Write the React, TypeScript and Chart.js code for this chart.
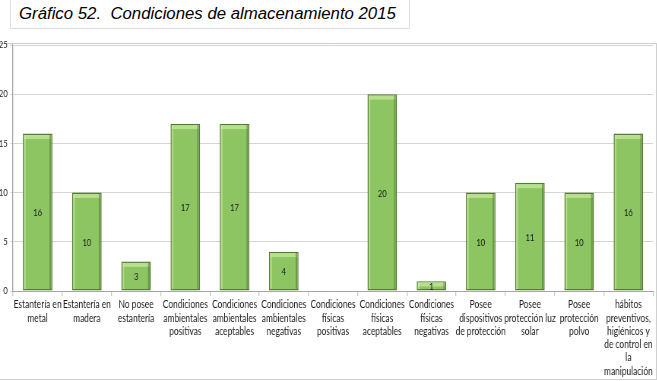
import React, { useEffect, useRef } from "react";
import { Chart, registerables } from "chart.js";

Chart.register(...registerables);

const titleText = "Gráfico 52.  Condiciones de almacenamiento 2015";

const categories: string[][] = [
  ["Estantería en", "metal"],
  ["Estantería en", "madera"],
  ["No posee", "estantería"],
  ["Condiciones", "ambientales", "positivas"],
  ["Condiciones", "ambientales", "aceptables"],
  ["Condiciones", "ambientales", "negativas"],
  ["Condiciones", "físicas", "positivas"],
  ["Condiciones", "físicas", "aceptables"],
  ["Condiciones", "físicas", "negativas"],
  ["Posee", "dispositivos", "de protección"],
  ["Posee", "protección luz", "solar"],
  ["Posee", "protección", "polvo"],
  ["hábitos", "preventivos,", "higiénicos y", "de control en", "la", "manipulación"],
];

const values: number[] = [16, 10, 3, 17, 17, 4, 0, 20, 1, 10, 11, 10, 16];

const yMin = 0;
const yMax = 25;
const yStep = 5;

// horizontal squeeze of the whole chart canvas (the reference text is condensed)
const SX = 0.76;
const CW = 865;
const CH = 381;

const LABEL_FONT = "Lato, 'Open Sans', sans-serif";

const barDecor = {
  id: "barDecor",
  afterDatasetsDraw(chart: any) {
    const ctx = chart.ctx;
    const meta = chart.getDatasetMeta(0);
    meta.data.forEach((el: any, i: number) => {
      const v = values[i];
      if (!v) return;
      const { x, y, base, width } = el.getProps(["x", "y", "base", "width"], true);
      const l = x - width / 2;
      const h = base - y;
      ctx.save();
      const th = Math.min(4, h - 2.5);
      if (th > 0) {
        ctx.fillStyle = "#b7df8c";
        ctx.fillRect(l + 1.7, y + 1.4, width - 3.4, th);
      }
      ctx.fillStyle = "rgba(205,238,168,0.55)";
      ctx.fillRect(l + 1.7, y + 1.4, 2, h - 2.8);
      ctx.fillStyle = "rgba(70,110,40,0.5)";
      ctx.fillRect(l + width - 3.7, y + 1.4, 2, h - 2.8);
      ctx.fillStyle = "#1a1a1a";
      ctx.font = "10px " + LABEL_FONT;
      ctx.textAlign = "center";
      ctx.textBaseline = "middle";
      ctx.fillText(String(v), x, (y + base) / 2 + 1);
      ctx.restore();
    });
  },
};

export default function App() {
  const ref = useRef<HTMLCanvasElement | null>(null);

  useEffect(() => {
    if (!ref.current) return;
    const chart = new Chart(ref.current, {
      type: "bar",
      data: {
        labels: categories,
        datasets: [
          {
            data: values,
            backgroundColor: "#8dc562",
            borderColor: "#567a36",
            borderWidth: 1.45,
            borderSkipped: false,
            barPercentage: 0.6,
            categoryPercentage: 1,
          },
        ],
      },
      options: {
        animation: false,
        responsive: false,
        maintainAspectRatio: false,
        layout: { padding: { left: 0, right: 5.8, top: 45, bottom: 0 } },
        plugins: {
          legend: { display: false },
          tooltip: { enabled: false },
          title: { display: false },
        },
        scales: {
          x: {
            grid: {
              offset: true,
              drawOnChartArea: false,
              drawTicks: true,
              tickLength: 5,
              lineWidth: 1.32,
              color: "#c8c8c8",
            },
            border: { color: "#a6a6a6" },
            ticks: {
              autoSkip: false,
              maxRotation: 0,
              minRotation: 0,
              padding: 2,
              color: "#1a1a1a",
              font: { family: LABEL_FONT, size: 11, lineHeight: 1.21 },
            },
            afterFit(scale: any) {
              scale.height = 90;
            },
          },
          y: {
            min: yMin,
            max: yMax,
            ticks: {
              stepSize: yStep,
              padding: 3,
              color: "#1a1a1a",
              font: { family: LABEL_FONT, size: 10 },
            },
            grid: {
              color: "#d4d4d4",
              tickLength: 3.95,
              drawTicks: true,
            },
            border: { color: "#a6a6a6", width: 1.32 },
            afterFit(scale: any) {
              scale.width = 17.1;
            },
          },
        },
      },
      plugins: [barDecor],
    });
    return () => chart.destroy();
  }, []);

  return (
    <div
      style={{
        position: "absolute",
        left: 0,
        top: 0,
        width: 657,
        height: 381,
        overflow: "hidden",
        background: "#ffffff",
      }}
    >
      <div
        style={{
          position: "absolute",
          left: 10,
          top: -2,
          width: 400,
          height: 31,
          borderRight: "1px solid #e2e2e2",
          borderBottom: "1px solid #dcdcdc",
          borderLeft: "1px solid #e2e2e2",
          boxSizing: "border-box",
        }}
      />
      <div
        style={{
          position: "absolute",
          left: 19,
          top: 5,
          fontFamily: "'Liberation Sans', Arial, sans-serif",
          fontStyle: "italic",
          fontSize: 16.8,
          color: "#000",
          whiteSpace: "pre",
          lineHeight: "18px",
        }}
      >
        {titleText}
      </div>
      <div
        style={{
          position: "absolute",
          left: -2,
          top: 43,
          width: 659,
          height: 337,
          border: "1px solid #d0d0d0",
          boxSizing: "border-box",
        }}
      />
      <div
        style={{
          position: "absolute",
          left: 0,
          top: 0,
          width: CW,
          height: CH,
          transform: `scaleX(${SX})`,
          transformOrigin: "0 0",
        }}
      >
        <canvas ref={ref} width={CW} height={CH} style={{ display: "block" }} />
      </div>
    </div>
  );
}
